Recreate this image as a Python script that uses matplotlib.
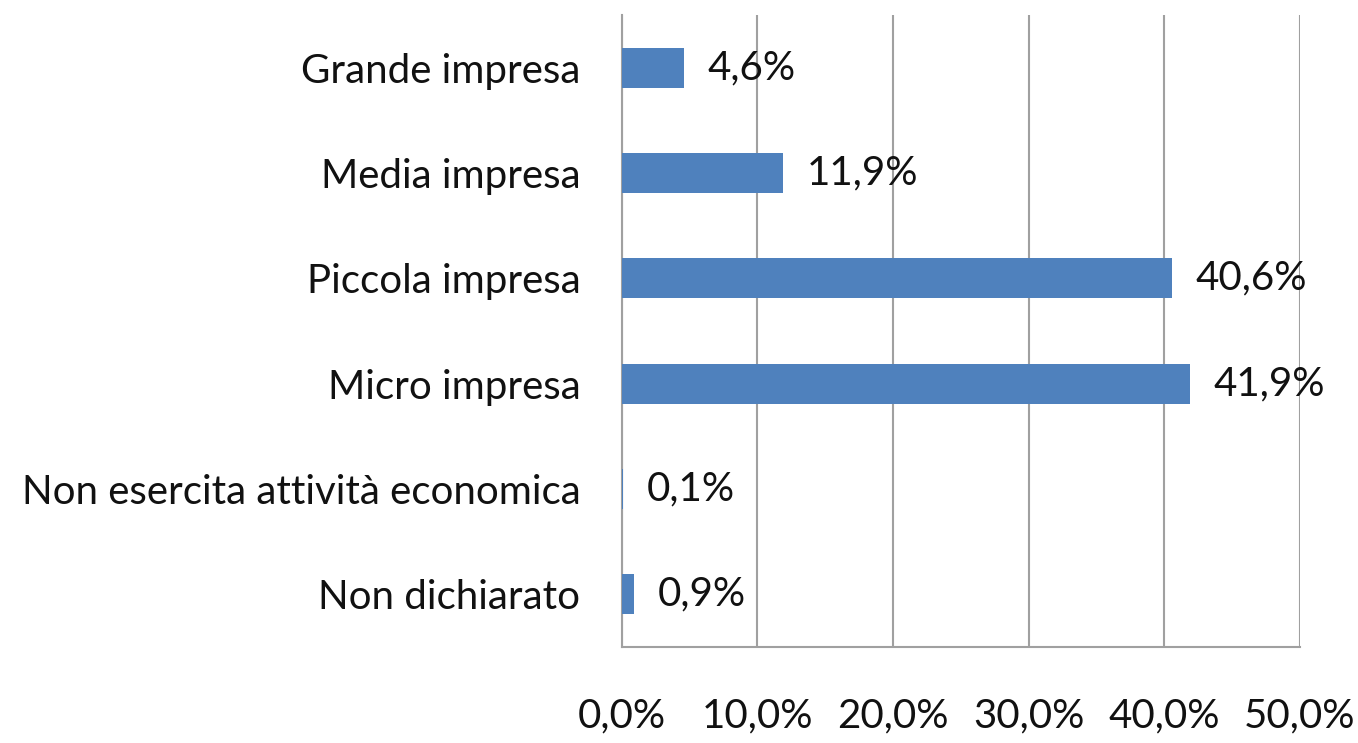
import matplotlib

matplotlib.use("Agg")
import matplotlib.pyplot as plt
import numpy as np

categories = [
    "Non dichiarato",
    "Non esercita attività economica",
    "Micro impresa",
    "Piccola impresa",
    "Media impresa",
    "Grande impresa",
]
values = [0.9, 0.1, 41.9, 40.6, 11.9, 4.6]
xticks = [0, 10, 20, 30, 40, 50]

BAR = "#4F81BD"
GRID = "#A0A0A0"
FS = 29

plt.rcParams["font.family"] = ["Lato", "DejaVu Sans"]

fig = plt.figure(figsize=(13.58, 7.43), dpi=100)
ax = fig.add_axes([0.458, 0.129, 0.499, 0.851])

y = np.arange(len(categories))
ax.barh(y, values, height=0.38, color=BAR, zorder=3)
for yi, v in zip(y, values):
    ax.annotate(f"{v:.1f}%".replace(".", ","), (v, yi), xytext=(17, 0),
                textcoords="offset points", fontsize=FS, va="center",
                ha="left", color="#111111", zorder=4)

ax.set_xlim(0, 50)
ax.set_ylim(-0.5, 5.5)
ax.set_xticks(xticks, [f"{t:.1f}%".replace(".", ",") for t in xticks])
ax.set_yticks(y, categories)
ax.tick_params(axis="x", length=0, pad=36, labelsize=FS, colors="#111111")
ax.tick_params(axis="y", length=0, pad=30, labelsize=FS, colors="#111111")
ax.grid(True, axis="x", color=GRID, lw=1.5, zorder=0)
for s in ["top", "right"]:
    ax.spines[s].set_visible(False)
for s in ["left", "bottom"]:
    ax.spines[s].set_color(GRID)
    ax.spines[s].set_linewidth(1.5)

fig.savefig("out.png", dpi=100)
